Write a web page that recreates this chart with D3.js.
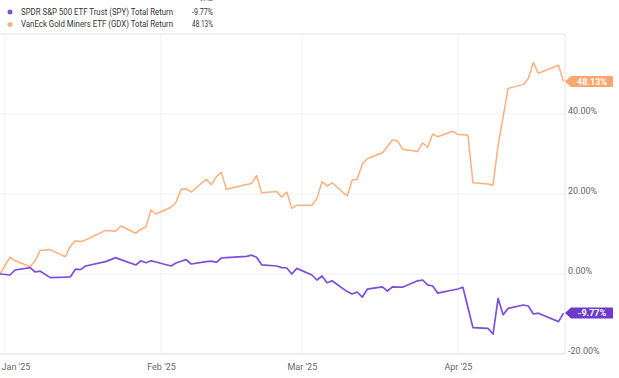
<!DOCTYPE html>
<html>
<head>
<meta charset="utf-8">
<script src="https://cdn.jsdelivr.net/npm/d3@7"></script>
<style>
  body { margin: 0; background: #fff; }
  text { font-family: Roboto, "Liberation Sans", sans-serif; }
</style>
</head>
<body>
<svg id="chart" width="619" height="378"></svg>
<script>
const dates = [
  '2024-12-31',
  '2025-01-02','2025-01-03','2025-01-06','2025-01-07','2025-01-08','2025-01-10','2025-01-13','2025-01-14',
  '2025-01-15','2025-01-16','2025-01-17','2025-01-21','2025-01-22','2025-01-23','2025-01-24','2025-01-27',
  '2025-01-28','2025-01-29','2025-01-30','2025-01-31',
  '2025-02-03','2025-02-04','2025-02-05','2025-02-06','2025-02-07','2025-02-10','2025-02-11','2025-02-12',
  '2025-02-13','2025-02-14','2025-02-18','2025-02-19','2025-02-20','2025-02-21','2025-02-24','2025-02-25',
  '2025-02-26','2025-02-27','2025-02-28',
  '2025-03-03','2025-03-04','2025-03-05','2025-03-06','2025-03-07','2025-03-10','2025-03-11','2025-03-12',
  '2025-03-13','2025-03-14','2025-03-17','2025-03-18','2025-03-19','2025-03-20','2025-03-21','2025-03-24',
  '2025-03-25','2025-03-26','2025-03-27','2025-03-28','2025-03-31',
  '2025-04-01','2025-04-02','2025-04-03','2025-04-04','2025-04-07','2025-04-08','2025-04-09','2025-04-10',
  '2025-04-11','2025-04-14','2025-04-15','2025-04-16','2025-04-17','2025-04-21','2025-04-22'
]

const spyValues = [
  0,
  -0.25, 1.0, 1.6, 0.5, 0.7, -0.9, -0.8, -0.7,
  1.2, 1.1, 2.0, 3.1, 3.6, 4.1, 3.6, 2.25,
  3.3, 2.8, 3.3, 3.0,
  2.0, 2.75, 3.2, 3.6, 2.5, 3.1, 3.2, 2.9,
  4.0, 4.1, 4.4, 4.7, 4.2, 2.3, 2.0, 1.6,
  1.5, 0.0, 1.4,
  -0.25, -1.5, -0.5, -2.2, -1.7, -4.4, -5.0, -4.5,
  -5.8, -3.8, -3.2, -4.25, -3.2, -3.3, -3.3, -1.7,
  -1.5, -2.7, -3.0, -4.8, -4.0,
  -3.75, -3.3, -8.3, -13.4, -13.6, -15.0, -6.1, -10.2,
  -8.6, -7.75, -8.0, -10.0, -9.8, -11.9, -9.77
]

const gdxValues = [
  0,
  4.2, 3.3, 1.8, 3.3, 5.9, 6.1, 4.3, 7.0,
  8.3, 8.1, 8.5, 10.9, 10.8, 10.7, 12.0, 10.2,
  11.2, 11.8, 16.0, 15.0,
  16.7, 18.0, 21.2, 21.3, 20.5, 23.7, 22.3, 24.3,
  25.4, 21.2, 22.4, 22.6, 24.6, 20.3, 20.6, 19.2,
  20.5, 16.4, 17.2,
  17.2, 18.9, 23.1, 22.0, 22.8, 19.5, 23.5, 23.7,
  27.5, 28.8, 30.3, 31.8, 33.5, 33.3, 31.2, 30.6,
  32.8, 31.7, 35.0, 34.3, 35.7,
  34.9, 34.8, 34.7, 22.8, 22.5, 22.2, 32.2, 39.3,
  46.4, 47.4, 48.9, 52.9, 50.2, 52.2, 48.13
]

const seriesNames = ['SPDR S&P 500 ETF Trust (SPY) Total Return', 'VanEck Gold Miners ETF (GDX) Total Return']
const seriesLast = ['-9.77%', '48.13%']
const yTicks = [-20, 0, 20, 40]
const xTicks = ['2025-01-01', '2025-02-01', '2025-03-01', '2025-04-01']

const parse = d3.utcParse('%Y-%m-%d')
const spy = dates.map((d, i) => ({date: parse(d), value: spyValues[i]}))
const gdx = dates.map((d, i) => ({date: parse(d), value: gdxValues[i]}))

const svg = d3.select('#chart')
let plot = {left: 0, right: 565, top: 34, bottom: 354},
    purple = '#7b4fdc',
    purpleBox = '#6a3cc9',
    orange = '#ffaf7d',
    orangeBox = '#ffa670'

const xScale = d3.scaleUtc()
  .domain([parse('2024-12-31'), parse('2025-04-22')])
  .range([0, 563.5])

const yScale = d3.scaleLinear()
  .domain([-20, 60])
  .range([plot.bottom, plot.top])

// grid
const grid = svg.append('g')
grid.selectAll('.hgrid')
  .data(yTicks)
  .join('line')
  .attr('x1', plot.left).attr('x2', plot.right)
  .attr('y1', d => yScale(d)).attr('y2', d => yScale(d))
  .attr('stroke', '#f0f0f0')
grid.selectAll('.vgrid')
  .data(xTicks)
  .join('line')
  .attr('x1', d => xScale(parse(d))).attr('x2', d => xScale(parse(d)))
  .attr('y1', plot.top).attr('y2', plot.bottom)
  .attr('stroke', '#f0f0f0')
grid.append('path')
  .attr('d', `M${plot.left},${plot.top}H${plot.right}V${plot.bottom}H${plot.left}`)
  .attr('fill', 'none')
  .attr('stroke', '#e4e4e4')

// axes
const yAxis = d3.axisRight(yScale)
  .tickValues(yTicks)
  .tickSize(0)
  .tickPadding(0)
  .tickFormat(d => d.toFixed(2) + '%')
svg.append('g')
  .attr('transform', `translate(${plot.right + 3}, -3)`)
  .call(yAxis)
  .call(g => g.select('.domain').remove())
  .call(g => g.selectAll('text').attr('fill', '#666').attr('font-size', 9).attr('font-family', 'Roboto'))

const xAxis = d3.axisBottom(xScale)
  .tickValues(xTicks.map(parse))
  .tickSize(0)
  .tickPadding(0)
  .tickFormat(d3.utcFormat("%b '%y"))
svg.append('g')
  .attr('transform', `translate(0, ${plot.bottom + 10})`)
  .call(xAxis)
  .call(g => g.select('.domain').remove())
  .call(g => g.selectAll('text').attr('fill', '#666').attr('font-size', 9).attr('font-family', 'Roboto'))
  .call(g => g.selectAll('text').filter((d, i) => i === 0).attr('text-anchor', 'start').attr('x', -4))

// lines
const line = d3.line()
  .x(d => xScale(d.date))
  .y(d => yScale(d.value))

svg.append('path')
  .datum(gdx)
  .attr('fill', 'none')
  .attr('stroke', orange)
  .attr('stroke-width', 1.5)
  .attr('stroke-linejoin', 'round')
  .attr('d', line)

svg.append('path')
  .datum(spy)
  .attr('fill', 'none')
  .attr('stroke', purple)
  .attr('stroke-width', 1.7)
  .attr('stroke-linejoin', 'round')
  .attr('d', line)

// end labels
const endLabels = [
  {value: gdxValues[gdxValues.length - 1], text: seriesLast[1], color: orangeBox},
  {value: spyValues[spyValues.length - 1], text: seriesLast[0], color: purpleBox}
]
endLabels.forEach(l => {
  const y = yScale(l.value)
  const g = svg.append('g').attr('transform', `translate(${plot.right}, ${y})`)
  g.append('path')
    .attr('d', 'M0,0L6,-5.5H48V5.5H6Z')
    .attr('fill', l.color)
  g.append('text')
    .attr('x', 27).attr('y', 3.3)
    .attr('text-anchor', 'middle')
    .attr('fill', '#fff')
    .attr('font-size', 9)
    .attr('font-weight', 'bold')
    .text(l.text)
})

// legend
const legend = svg.append('g')
legend.append('text')
  .attr('x', 213).attr('y', 1)
  .attr('text-anchor', 'end')
  .attr('fill', '#555')
  .attr('font-size', 8)
  .text('VAL')
const legendColors = [purple, orange]
seriesNames.forEach((name, i) => {
  const y = 12 + i * 12.4
  legend.append('circle')
    .attr('cx', 10).attr('cy', y)
    .attr('r', 2.5)
    .attr('fill', legendColors[i])
  legend.append('text')
    .attr('x', 21).attr('y', y + 3)
    .attr('fill', '#333')
    .attr('font-size', 9)
    .attr('textLength', 152)
    .attr('lengthAdjust', 'spacingAndGlyphs')
    .text(name)
  legend.append('text')
    .attr('x', 213).attr('y', y + 3)
    .attr('text-anchor', 'end')
    .attr('fill', '#333')
    .attr('font-size', 9)
    .attr('textLength', 21)
    .attr('lengthAdjust', 'spacingAndGlyphs')
    .text(seriesLast[i])
})
</script>
</body>
</html>
